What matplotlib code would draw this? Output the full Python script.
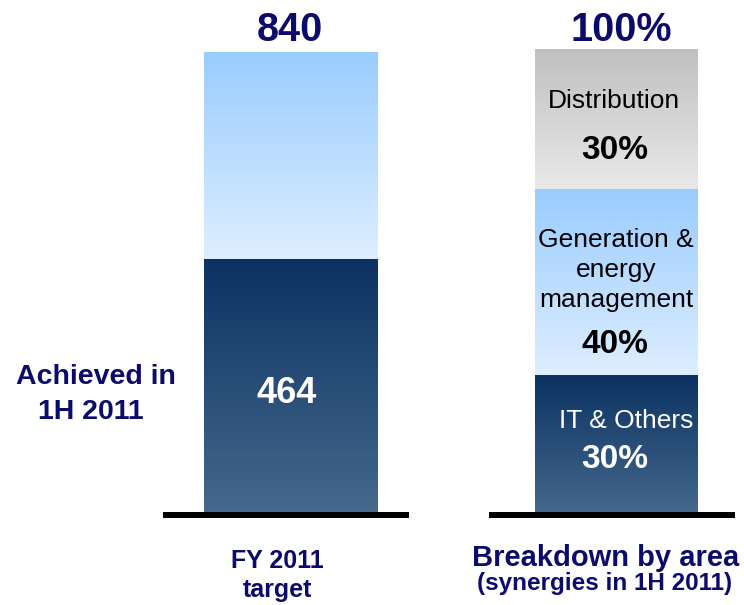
import matplotlib
matplotlib.use("Agg")
import matplotlib.pyplot as plt
import numpy as np
from matplotlib.colors import LinearSegmentedColormap

plt.rcParams['font.family'] = ['Liberation Sans', 'DejaVu Sans']

# ---------------- data ----------------
target_total = 840
achieved = 464
left_values = [achieved, target_total - achieved]          # bottom -> top
area_names = ['IT & Others', 'Generation &\nenergy\nmanagement', 'Distribution']
area_shares = [30, 40, 30]                                   # bottom -> top
left_label = 'Achieved in\n1H 2011'
left_xlabel = 'FY 2011\ntarget'
right_xlabel = 'Breakdown by area'
right_xsub = '(synergies in 1H 2011)'

# ---------------- style ----------------
W, H = 744, 605
navy = '#0b0b6b'
dark_grad = ('#46698c', '#0b3262')     # bottom, top
light_grad = ('#deeeff', '#99ccff')
gray_grad = ('#e9e9e9', '#c0c0c0')

fig = plt.figure(figsize=(W / 100, H / 100), dpi=100)


def fx(x):
    return x / W


def fy(y):
    return 1 - y / H


def grad_bar(ax, x, bottom, height, width, colors):
    bars = ax.bar([x], [height], bottom=[bottom], width=width,
                  color='none', edgecolor='none')
    patch = bars[0]
    cmap = LinearSegmentedColormap.from_list('g', list(colors))
    grad = np.linspace(0, 1, 256).reshape(-1, 1)
    im = ax.imshow(grad, cmap=cmap, aspect='auto', origin='lower',
                   extent=[x - width / 2, x + width / 2, bottom, bottom + height],
                   interpolation='bicubic', zorder=1)
    im.set_clip_path(patch)


def style_axes(ax):
    for s in ['top', 'left', 'right']:
        ax.spines[s].set_visible(False)
    sp = ax.spines['bottom']
    sp.set_linewidth(6 * 72 / 100)
    sp.set_color('black')
    sp.set_zorder(5)
    sp.set_capstyle('butt')
    ax.set_xticks([])
    ax.set_yticks([])
    ax.patch.set_visible(False)


# left axes (840 bar)
axL = fig.add_axes([fx(163), fy(515), 246 / W, 463 / H])
cL, wL = 0.520, 0.707
bottom = 0
for v, cols in zip(left_values, [dark_grad, light_grad]):
    grad_bar(axL, cL, bottom, v, wL, cols)
    bottom += v
axL.set_xlim(0, 1)
axL.set_ylim(0, target_total)
style_axes(axL)

# right axes (100% bar)
axR = fig.add_axes([fx(489), fy(515), 246 / W, 466 / H])
cR, wR = 0.516, 0.659
bottom = 0
for v, cols in zip(area_shares, [dark_grad, light_grad, gray_grad]):
    grad_bar(axR, cR, bottom, v, wR, cols)
    bottom += v
axR.set_xlim(0, 1)
axR.set_ylim(0, sum(area_shares))
style_axes(axR)


def T(x, y, s, size, color='black', weight='normal', ha='center'):
    fig.text(fx(x), fy(y), s, fontsize=size, color=color, fontweight=weight,
             ha=ha, va='baseline')


# totals
T(290, 41, f'{target_total}', 28.5, navy, 'bold')
T(621, 41, f'{sum(area_shares)}%', 28.5, navy, 'bold')
T(287, 403, f'{achieved}', 26, 'white', 'bold')

# left annotation
l1, l2 = left_label.split('\n')
T(96, 384, l1, 20.5, navy, 'bold')
T(91, 419, l2, 20.5, navy, 'bold')

# x labels
x1, x2 = left_xlabel.split('\n')
T(277, 568, x1, 18, navy, 'bold')
T(277, 597, x2, 18, navy, 'bold')
T(606, 566, right_xlabel, 21, navy, 'bold')
T(605, 590, right_xsub, 17.5, navy, 'bold')

# right bar segment labels
T(614, 108, area_names[2], 19)
T(615, 159, f'{area_shares[2]}%', 24, 'black', 'bold')
g_lines = area_names[1].split('\n')
for line, yb in zip(g_lines, [247, 277, 307]):
    T(616, yb, line, 19)
T(615, 353, f'{area_shares[1]}%', 24, 'black', 'bold')
T(626, 428, area_names[0], 19, 'white')
T(615, 468, f'{area_shares[0]}%', 24, 'white', 'bold')

fig.savefig('out.png', dpi=100)
